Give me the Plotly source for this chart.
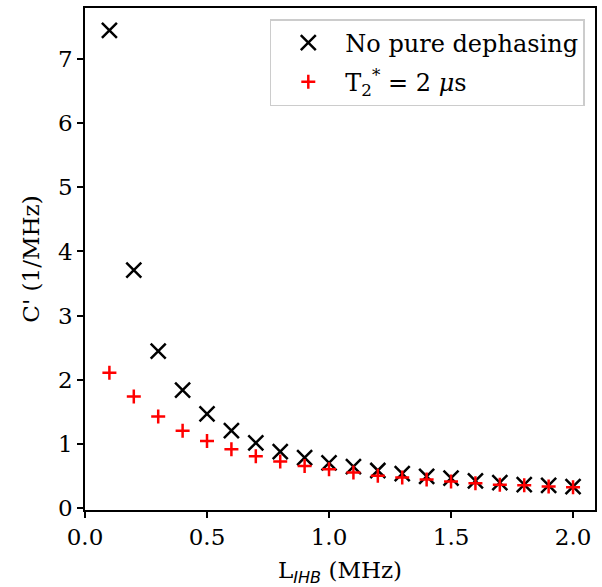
import plotly.graph_objects as go

L_ihb = [0.1, 0.2, 0.3, 0.4, 0.5, 0.6, 0.7, 0.8, 0.9, 1.0,
         1.1, 1.2, 1.3, 1.4, 1.5, 1.6, 1.7, 1.8, 1.9, 2.0]
c_no_dephasing = [7.44, 3.71, 2.45, 1.84, 1.47, 1.21, 1.02, 0.885, 0.79, 0.71,
                  0.65, 0.59, 0.54, 0.50, 0.47, 0.43, 0.40, 0.37, 0.36, 0.34]
c_t2star = [2.11, 1.74, 1.43, 1.21, 1.05, 0.92, 0.81, 0.73, 0.66, 0.61,
            0.56, 0.51, 0.48, 0.45, 0.42, 0.39, 0.37, 0.36, 0.34, 0.33]

x_ticks = [0.0, 0.5, 1.0, 1.5, 2.0]
y_ticks = [0, 1, 2, 3, 4, 5, 6, 7]

FONT = "DejaVu Serif"
FS = 23

fig = go.Figure()
fig.add_trace(go.Scatter(
    x=L_ihb, y=c_no_dephasing, mode="markers", name="No pure dephasing",
    legendgroup="a",
    marker=dict(symbol="x-thin", size=15, color="black",
                line=dict(color="black", width=2.5)),
))
fig.add_trace(go.Scatter(
    x=L_ihb, y=c_t2star, mode="markers",
    name="T<sub>2</sub><sup>*</sup> = 2 <i>μ</i>s",
    legendgroup="b",
    marker=dict(symbol="cross-thin", size=10, color="red",
                line=dict(color="red", width=2.5)),
))

axis_common = dict(
    showgrid=False, zeroline=False, showline=True, linecolor="black",
    linewidth=1.5, mirror=True, ticks="outside", ticklen=6, tickwidth=1.5,
    tickcolor="black", tickfont=dict(family=FONT, size=FS, color="black"),
)

fig.update_xaxes(
    range=[0.0, 2.09], tickvals=x_ticks,
    ticktext=[f"{v:.1f}" for v in x_ticks],
    title=dict(text="L<sub><span style='font-family:DejaVu Sans'><i>IHB</i></span></sub> (MHz)",
               font=dict(family=FONT, size=FS, color="black"), standoff=14),
    **axis_common,
)
fig.update_yaxes(
    range=[-0.025, 7.79], tickvals=y_ticks,
    ticktext=[str(v) for v in y_ticks],
    title=dict(text="C' (1/MHz)", font=dict(family=FONT, size=FS, color="black"),
               standoff=12),
    **axis_common,
)

fig.update_layout(
    width=602, height=587,
    margin=dict(l=85, r=5, t=8, b=77),
    plot_bgcolor="white", paper_bgcolor="white",
    font=dict(family=FONT, size=FS, color="black"),
    showlegend=True,
    legend=dict(x=0.98, y=0.978, xanchor="right", yanchor="top",
                bgcolor="white", bordercolor="#cccccc", borderwidth=1.5,
                font=dict(family=FONT, size=24, color="black"),
                itemwidth=64, traceorder="grouped", tracegroupgap=5),
)

fig.write_html("out.html")
